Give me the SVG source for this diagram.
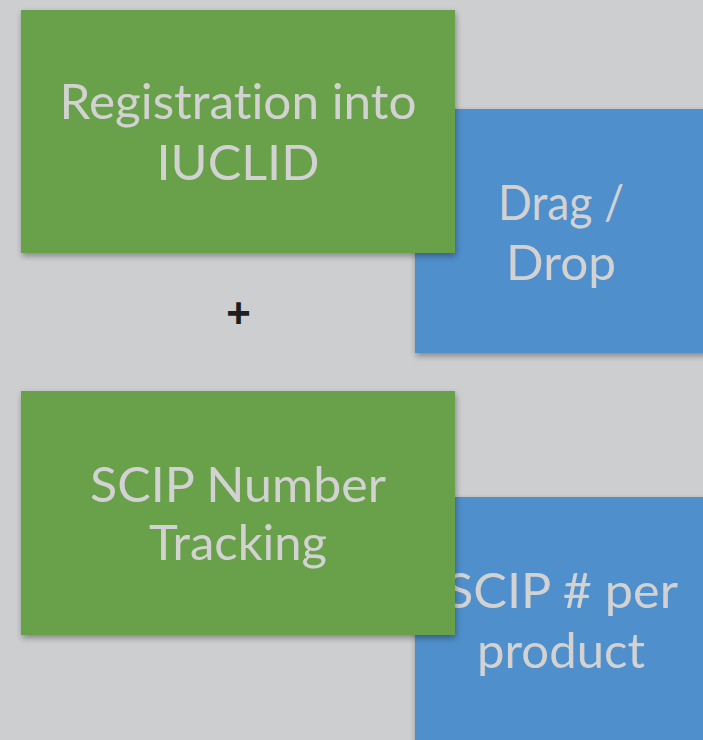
<svg xmlns="http://www.w3.org/2000/svg" width="703" height="740" viewBox="0 0 703 740">
<style>
.g{fill:#67a149}
.b{fill:#4f8fcb}
.t{font-family:"Lato","Open Sans",sans-serif;font-size:49px;fill:#d2d2d2;text-anchor:middle;font-variant-ligatures:none}
.p{font-family:"Liberation Sans",sans-serif;font-size:42px;font-weight:bold;fill:#1e1e1e;text-anchor:middle}
</style>
<defs>
<filter id="sh" x="-10%" y="-10%" width="130%" height="130%">
<feDropShadow dx="1" dy="3" stdDeviation="3" flood-color="#000" flood-opacity="0.35"/>
</filter>
</defs>
<rect width="703" height="740" fill="#cdcecf"/>
<g id="node-dragdrop">
<rect class="b" x="415" y="109" width="292" height="244" filter="url(#sh)"/>
<text class="t" x="561" y="220" textLength="126" lengthAdjust="spacingAndGlyphs">Drag /</text>
<text class="t" x="561" y="280" textLength="110" lengthAdjust="spacingAndGlyphs">Drop</text>
</g>
<g id="node-scip-per-product">
<rect class="b" x="415" y="497" width="292" height="260" filter="url(#sh)"/>
<text class="t" x="562" y="608" textLength="232" lengthAdjust="spacingAndGlyphs">SCIP # per</text>
<text class="t" x="561" y="668" textLength="168" lengthAdjust="spacingAndGlyphs">product</text>
</g>
<g id="node-registration">
<rect class="g" x="21" y="10" width="434" height="243" filter="url(#sh)"/>
<text class="t" x="238" y="119" textLength="357" lengthAdjust="spacingAndGlyphs">Registration into</text>
<text class="t" x="238" y="180" textLength="163" lengthAdjust="spacingAndGlyphs">IUCLID</text>
</g>
<g id="node-scip-tracking">
<rect class="g" x="21" y="391" width="434" height="244" filter="url(#sh)"/>
<text class="t" x="238" y="502" textLength="296" lengthAdjust="spacingAndGlyphs">SCIP Number</text>
<text class="t" x="238" y="560" textLength="178" lengthAdjust="spacingAndGlyphs">Tracking</text>
</g>
<g id="connectors">
<text class="p" x="238.5" y="327">+</text>
</g>
</svg>
